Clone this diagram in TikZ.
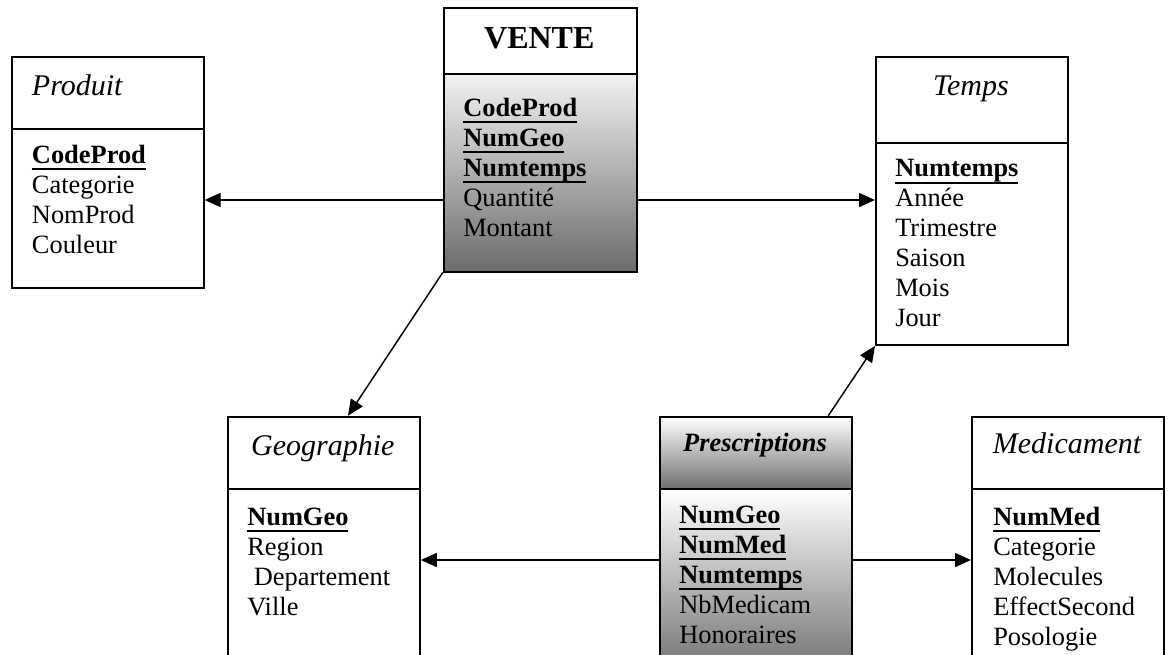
\documentclass[tikz,border=0pt]{standalone}
\usepackage{fontspec}
\setmainfont{Liberation Serif}
\usetikzlibrary{arrows.meta}

% bold key attribute with a heavy underline
\newcommand\keyfield[1]{%
  \setbox0\hbox{\bfseries #1}%
  \rlap{\vrule height -3.6pt depth 5.1pt width \wd0}\box0}
% one line of an attribute list
\newcommand\fl[1]{\hbox{\strut #1}}

\begin{document}
\begin{tikzpicture}[x=0.75pt,y=-0.75pt,
  every node/.style={font=\fontsize{19.8pt}{22.5pt}\selectfont},
  box/.style={draw=black, line width=1.4pt, inner sep=0pt, anchor=north west,
    minimum width=144pt, fill=white},
  title/.style={inner sep=0pt, anchor=base, font=\fontsize{22.5pt}{26pt}\selectfont\itshape},
  fields/.style={inner sep=0pt, anchor=base west},
  conn/.style={draw=black, line width=1.1pt, -{Triangle[length=12pt,width=10.5pt]}}]

\useasboundingbox (0,0) rectangle (1168,654);
\clip (0,0) rectangle (1168,654);

% ---- Produit
\node[box, minimum height=54pt] (produitH) at (10.7,56) {};
\node[box, minimum height=119.25pt] (produitB) at (10.7,128) {};
\node[title, anchor=base west] (produitT) at (31.7,95) {Produit};
\node[fields] (produitF) at (31.7,163) {\vtop{\fl{\keyfield{CodeProd}}\fl{Categorie}\fl{NomProd}\fl{Couleur}}};

% ---- VENTE
\node[box, minimum width=145pt, minimum height=49pt] (venteH) at (442.7,7.3) {};
\node[box, minimum width=145pt, minimum height=148.5pt, top color=black!5, bottom color=black!58] (venteB) at (442.7,72.7) {};
\node[title, font=\fontsize{24pt}{28pt}\selectfont\bfseries] (venteT) at (539.3,48.3) {VENTE};
\node[fields] (venteF) at (463,116) {\vtop{\fl{\keyfield{CodeProd}}\fl{\keyfield{NumGeo}}\fl{\keyfield{Numtemps}}\fl{Quantité}\fl{Montant}}};

% ---- Temps
\node[box, minimum width=144.2pt, minimum height=65pt] (tempsH) at (875,55.7) {};
\node[box, minimum width=144.2pt, minimum height=151.3pt] (tempsB) at (875,142.3) {};
\node[title] (tempsT) at (971,95) {Temps};
\node[fields] (tempsF) at (895,176.7) {\vtop{\fl{\keyfield{Numtemps}}\fl{Année}\fl{Trimestre}\fl{Saison}\fl{Mois}\fl{Jour}}};

% ---- Geographie
\node[box, minimum width=144.2pt, minimum height=54.5pt] (geoH) at (226.7,415.7) {};
\node[box, minimum width=144.2pt, minimum height=160pt] (geoB) at (226.7,488.3) {};
\node[title] (geoT) at (322.8,455) {Geographie};
\node[fields] (geoF) at (247,525) {\vtop{\fl{\keyfield{NumGeo}}\fl{Region}\fl{\ Departement}\fl{Ville}}};

% ---- Prescriptions
\node[box, minimum width=144pt, minimum height=54.5pt, top color=white, bottom color=black!57] (prescH) at (659,415.7) {};
\node[box, minimum width=144pt, minimum height=136pt, top color=white, bottom color=black!55] (prescB) at (659,488.3) {};
\node[title, font=\fontsize{19.8pt}{22.5pt}\selectfont\bfseries\itshape] (prescT) at (755,451.7) {Prescriptions};
\node[fields] (prescF) at (679,523) {\vtop{\fl{\keyfield{NumGeo}}\fl{\keyfield{NumMed}}\fl{\keyfield{Numtemps}}\fl{NbMedicam}\fl{Honoraires}}};

% ---- Medicament
\node[box, minimum width=143.8pt, minimum height=54.5pt] (medH) at (971,415.7) {};
\node[box, minimum width=143.8pt, minimum height=160pt] (medB) at (971,488.3) {};
\node[title] (medT) at (1067,453) {Medicament};
\node[fields] (medF) at (993,525) {\vtop{\fl{\keyfield{NumMed}}\fl{Categorie}\fl{Molecules}\fl{EffectSecond}\fl{Posologie}}};

% ---- links between the fact tables and the dimensions
\draw[conn] (venteB.west |- 0,200) -- (produitB.east |- 0,200);
\draw[conn] (venteB.east |- 0,200) -- (tempsB.west |- 0,200);
\draw[conn] (venteB.south west) -- (geoH.north -| 348,0);
\draw[conn] (prescH.north -| 828.3,0) -- (tempsB.south west);
\draw[conn] (prescB.west |- 0,560) -- (geoB.east |- 0,560);
\draw[conn] (prescB.east |- 0,560) -- (medB.west |- 0,560);
\end{tikzpicture}
\end{document}
